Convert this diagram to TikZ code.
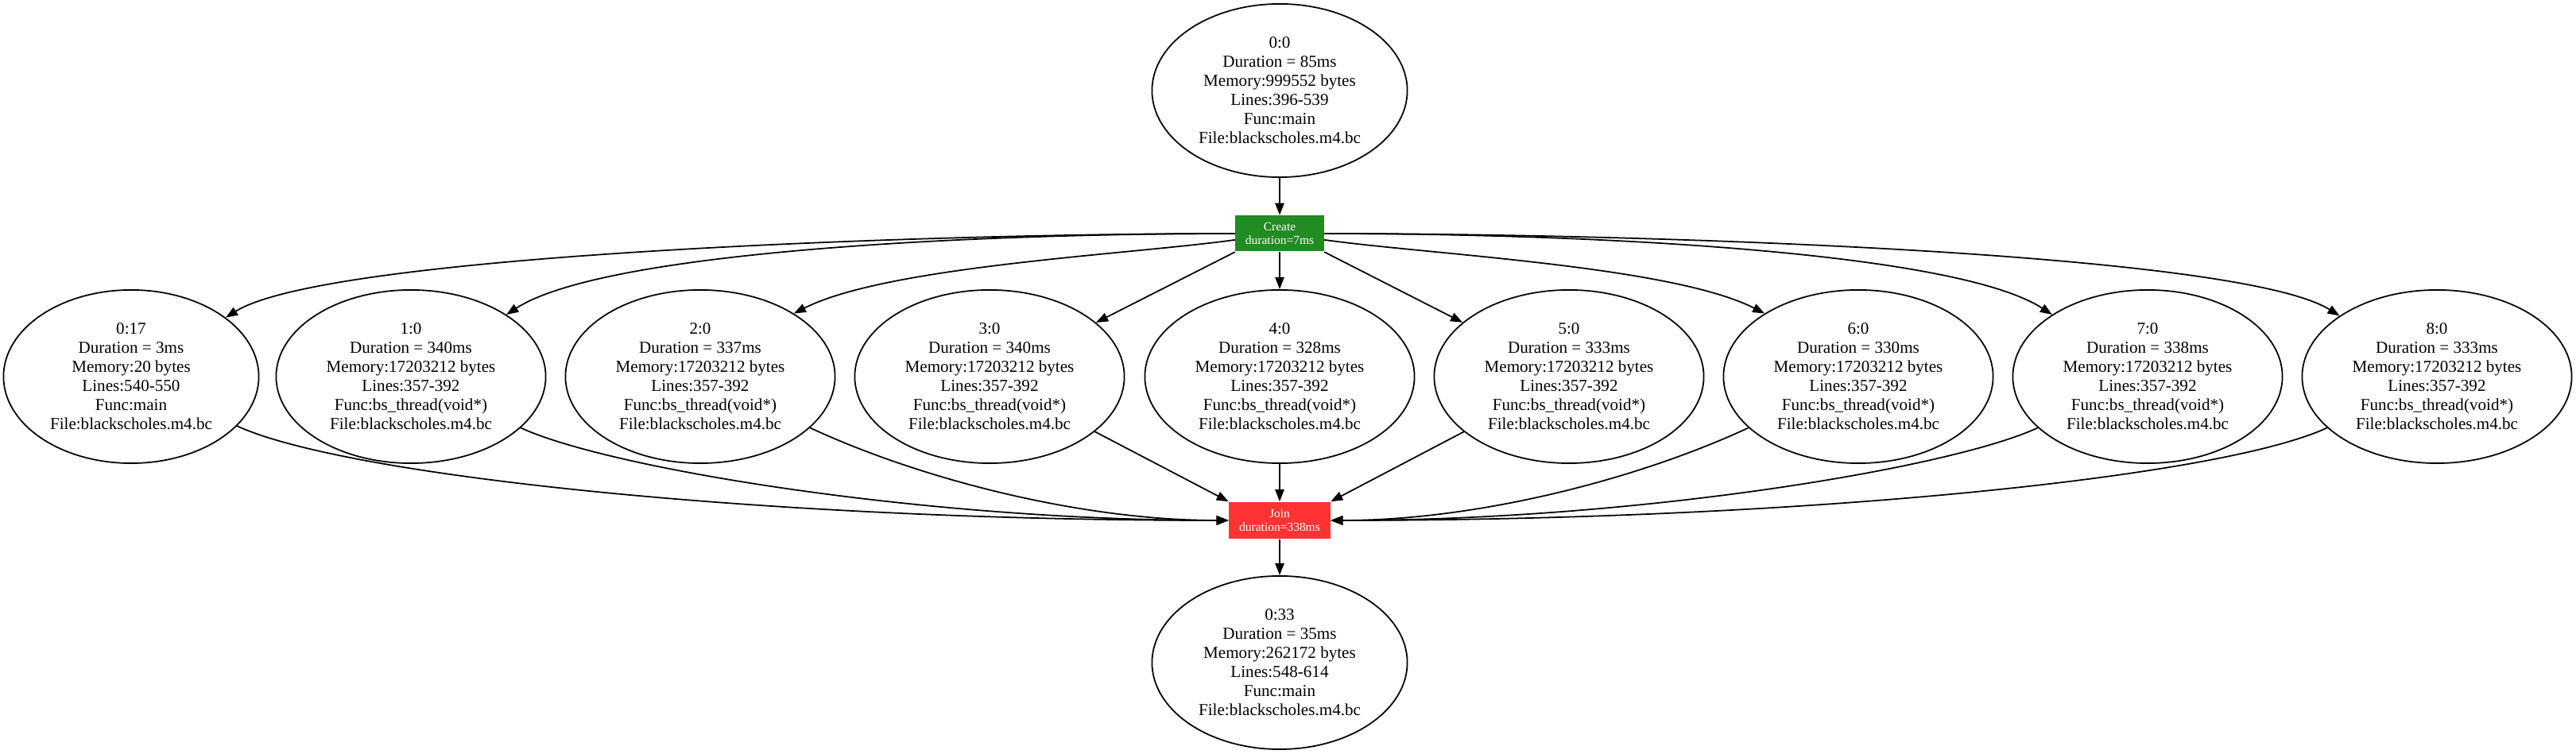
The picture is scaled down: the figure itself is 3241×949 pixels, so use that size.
\documentclass[tikz,border=0pt]{standalone}
\usepackage{fontspec}
\setmainfont{Liberation Serif}
\usetikzlibrary{shapes.geometric,arrows.meta}
\definecolor{creategreen}{RGB}{34,139,34}
\definecolor{joinred}{RGB}{255,51,51}

\begin{document}
\begin{tikzpicture}[x=0.01cm,y=0.01cm,
    func/.style={ellipse,draw,line width=0.5pt,inner sep=0pt,minimum width=3.21cm,minimum height=2.18cm,align=center,font=\fontsize{6}{6.83}\selectfont},
    thread/.style={func,minimum width=3.39cm},
    sync/.style={rectangle,inner sep=0pt,align=center,text=white,font=\fontsize{4.4}{4.84}\selectfont},
    flow/.style={-{Triangle[length=4.3pt,width=3.2pt]},line width=0.5pt}]
    \useasboundingbox (0,0) rectangle (3241,949);

    % Main function
    \node[func] (n00) at (1610,835) {0:0\\Duration = 85ms\\Memory:999552 bytes\\Lines:396-539\\Func:main\\File:blackscholes.m4.bc};

    % Create / Join
    \node[sync,fill=creategreen,minimum width=1.11cm,minimum height=0.45cm] (create) at (1610,655) {Create\\duration=7ms};
    \node[sync,fill=joinred,minimum width=1.27cm,minimum height=0.46cm] (join) at (1610,294) {Join\\duration=338ms};

    % Threads
    \node[func] (n017) at (165,475) {0:17\\Duration = 3ms\\Memory:20 bytes\\Lines:540-550\\Func:main\\File:blackscholes.m4.bc};
    \node[thread] (n10) at (517,475) {1:0\\Duration = 340ms\\Memory:17203212 bytes\\Lines:357-392\\Func:bs\_thread(void*)\\File:blackscholes.m4.bc};
    \node[thread] (n20) at (881,475) {2:0\\Duration = 337ms\\Memory:17203212 bytes\\Lines:357-392\\Func:bs\_thread(void*)\\File:blackscholes.m4.bc};
    \node[thread] (n30) at (1245,475) {3:0\\Duration = 340ms\\Memory:17203212 bytes\\Lines:357-392\\Func:bs\_thread(void*)\\File:blackscholes.m4.bc};
    \node[thread] (n40) at (1610,475) {4:0\\Duration = 328ms\\Memory:17203212 bytes\\Lines:357-392\\Func:bs\_thread(void*)\\File:blackscholes.m4.bc};
    \node[thread] (n50) at (1974,475) {5:0\\Duration = 333ms\\Memory:17203212 bytes\\Lines:357-392\\Func:bs\_thread(void*)\\File:blackscholes.m4.bc};
    \node[thread] (n60) at (2338,475) {6:0\\Duration = 330ms\\Memory:17203212 bytes\\Lines:357-392\\Func:bs\_thread(void*)\\File:blackscholes.m4.bc};
    \node[thread] (n70) at (2702,475) {7:0\\Duration = 338ms\\Memory:17203212 bytes\\Lines:357-392\\Func:bs\_thread(void*)\\File:blackscholes.m4.bc};
    \node[thread] (n80) at (3066,475) {8:0\\Duration = 333ms\\Memory:17203212 bytes\\Lines:357-392\\Func:bs\_thread(void*)\\File:blackscholes.m4.bc};

    % After join
    \node[func] (n033) at (1610,115) {0:33\\Duration = 35ms\\Memory:262172 bytes\\Lines:548-614\\Func:main\\File:blackscholes.m4.bc};

    % Main to create, join to end
    \draw[flow] (n00) -- (create);
    \draw[flow] (join) -- (n033);

    % Create to threads
    \draw[flow] (create) to[out=180,in=32,out looseness=0.8,in looseness=0.3] (n017);
    \draw[flow] (create) to[out=180,in=33,out looseness=0.95,in looseness=0.4] (n10);
    \draw[flow] (create) to[out=188,in=27,looseness=0.6] (n20.34);
    \draw[flow] (create.south west) -- (n30);
    \draw[flow] (create) -- (n40);
    \draw[flow] (create.south east) -- (n50);
    \draw[flow] (create) to[out=-8,in=153,looseness=0.6] (n60.146);
    \draw[flow] (create) to[out=0,in=147,out looseness=0.95,in looseness=0.4] (n70);
    \draw[flow] (create) to[out=0,in=148,out looseness=0.8,in looseness=0.3] (n80);

    % Threads to join
    \draw[flow] (n017) to[out=-25,in=180,out looseness=0.3,in looseness=1.2] (join);
    \draw[flow] (n10) to[out=-25,in=180,out looseness=0.34,in looseness=1.1] (join);
    \draw[flow] (n20) to[out=-25,in=180,out looseness=0.7,in looseness=0.9] (join);
    \draw[flow] (n30) -- (join.north west);
    \draw[flow] (n40) -- (join);
    \draw[flow] (n50) -- (join.north east);
    \draw[flow] (n60) to[out=205,in=0,out looseness=0.7,in looseness=0.9] (join);
    \draw[flow] (n70) to[out=205,in=0,out looseness=0.34,in looseness=1.1] (join);
    \draw[flow] (n80) to[out=205,in=0,out looseness=0.3,in looseness=1.2] (join);
\end{tikzpicture}
\end{document}
